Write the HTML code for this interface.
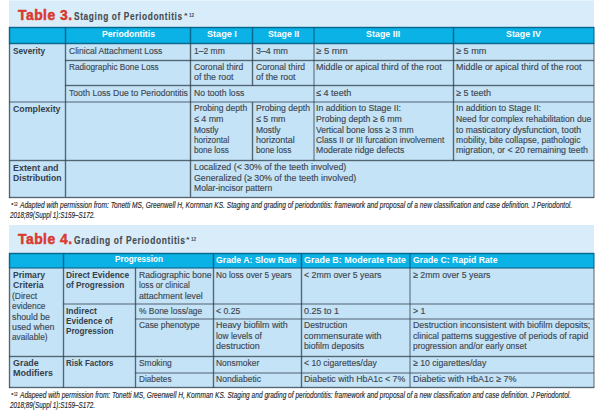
<!DOCTYPE html>
<html><head><meta charset="utf-8"><style>
html,body{margin:0;padding:0;background:#fff;width:600px;height:412px;overflow:hidden}
body{position:relative;font-family:"Liberation Sans",sans-serif}
div{position:absolute}
.t{white-space:pre;transform-origin:0 0}
</style></head><body>
<div style="left:9px;top:1px;width:585px;height:26px;background:#d8edf9"></div>
<div style="left:9px;top:0px;width:585px;height:1px;background:#e6f3fb"></div>
<div style="left:9px;top:27px;width:585px;height:171px;background:#c4e3f7"></div>
<div style="left:9px;top:27px;width:585px;height:17px;background:#0ab2e6"></div>
<div style="left:9px;top:225px;width:585px;height:28px;background:#d8edf9"></div>
<div style="left:9px;top:253px;width:585px;height:135px;background:#c4e3f7"></div>
<div style="left:9px;top:253px;width:585px;height:15px;background:#0ab2e6"></div>
<div style="left:9px;top:27px;width:585px;height:1px;background:rgba(8,90,125,0.85)"></div>
<div style="left:9px;top:26px;width:585px;height:1px;background:rgba(8,90,125,0.2)"></div>
<div style="left:9px;top:28px;width:585px;height:1px;background:rgba(8,90,125,0.2)"></div>
<div style="left:9px;top:43px;width:585px;height:1px;background:rgba(8,90,125,0.85)"></div>
<div style="left:9px;top:42px;width:585px;height:1px;background:rgba(8,90,125,0.2)"></div>
<div style="left:9px;top:44px;width:585px;height:1px;background:rgba(8,90,125,0.2)"></div>
<div style="left:9px;top:27px;width:1px;height:17px;background:rgba(8,90,125,0.85)"></div>
<div style="left:8px;top:27px;width:1px;height:17px;background:rgba(8,90,125,0.2)"></div>
<div style="left:10px;top:27px;width:1px;height:17px;background:rgba(8,90,125,0.2)"></div>
<div style="left:65px;top:27px;width:1px;height:17px;background:rgba(8,90,125,0.85)"></div>
<div style="left:64px;top:27px;width:1px;height:17px;background:rgba(8,90,125,0.2)"></div>
<div style="left:66px;top:27px;width:1px;height:17px;background:rgba(8,90,125,0.2)"></div>
<div style="left:190px;top:27px;width:1px;height:17px;background:rgba(8,90,125,0.85)"></div>
<div style="left:189px;top:27px;width:1px;height:17px;background:rgba(8,90,125,0.2)"></div>
<div style="left:191px;top:27px;width:1px;height:17px;background:rgba(8,90,125,0.2)"></div>
<div style="left:252px;top:27px;width:1px;height:17px;background:rgba(8,90,125,0.85)"></div>
<div style="left:251px;top:27px;width:1px;height:17px;background:rgba(8,90,125,0.2)"></div>
<div style="left:253px;top:27px;width:1px;height:17px;background:rgba(8,90,125,0.2)"></div>
<div style="left:313px;top:27px;width:1px;height:17px;background:rgba(8,90,125,0.5)"></div>
<div style="left:314px;top:27px;width:1px;height:17px;background:rgba(8,90,125,0.5)"></div>
<div style="left:453px;top:27px;width:1px;height:17px;background:rgba(8,90,125,0.85)"></div>
<div style="left:452px;top:27px;width:1px;height:17px;background:rgba(8,90,125,0.2)"></div>
<div style="left:454px;top:27px;width:1px;height:17px;background:rgba(8,90,125,0.2)"></div>
<div style="left:593px;top:27px;width:1px;height:17px;background:rgba(8,90,125,0.5)"></div>
<div style="left:594px;top:27px;width:1px;height:17px;background:rgba(8,90,125,0.5)"></div>
<div style="left:9px;top:44px;width:1px;height:154px;background:rgba(52,66,78,0.78)"></div>
<div style="left:8px;top:44px;width:1px;height:154px;background:rgba(52,66,78,0.14)"></div>
<div style="left:10px;top:44px;width:1px;height:154px;background:rgba(52,66,78,0.14)"></div>
<div style="left:593px;top:44px;width:1px;height:154px;background:rgba(52,66,78,0.4)"></div>
<div style="left:594px;top:44px;width:1px;height:154px;background:rgba(52,66,78,0.4)"></div>
<div style="left:9px;top:197px;width:585px;height:1px;background:rgba(52,66,78,0.78)"></div>
<div style="left:9px;top:196px;width:585px;height:1px;background:rgba(52,66,78,0.14)"></div>
<div style="left:9px;top:198px;width:585px;height:1px;background:rgba(52,66,78,0.14)"></div>
<div style="left:65px;top:60px;width:529px;height:1px;background:rgba(52,66,78,0.78)"></div>
<div style="left:65px;top:59px;width:529px;height:1px;background:rgba(52,66,78,0.14)"></div>
<div style="left:65px;top:61px;width:529px;height:1px;background:rgba(52,66,78,0.14)"></div>
<div style="left:65px;top:85px;width:529px;height:1px;background:rgba(52,66,78,0.78)"></div>
<div style="left:65px;top:84px;width:529px;height:1px;background:rgba(52,66,78,0.14)"></div>
<div style="left:65px;top:86px;width:529px;height:1px;background:rgba(52,66,78,0.14)"></div>
<div style="left:9px;top:101px;width:585px;height:1px;background:rgba(52,66,78,0.4)"></div>
<div style="left:9px;top:102px;width:585px;height:1px;background:rgba(52,66,78,0.4)"></div>
<div style="left:9px;top:160px;width:585px;height:1px;background:rgba(52,66,78,0.78)"></div>
<div style="left:9px;top:159px;width:585px;height:1px;background:rgba(52,66,78,0.14)"></div>
<div style="left:9px;top:161px;width:585px;height:1px;background:rgba(52,66,78,0.14)"></div>
<div style="left:65px;top:44px;width:1px;height:153px;background:rgba(52,66,78,0.78)"></div>
<div style="left:64px;top:44px;width:1px;height:153px;background:rgba(52,66,78,0.14)"></div>
<div style="left:66px;top:44px;width:1px;height:153px;background:rgba(52,66,78,0.14)"></div>
<div style="left:190px;top:44px;width:1px;height:153px;background:rgba(52,66,78,0.78)"></div>
<div style="left:189px;top:44px;width:1px;height:153px;background:rgba(52,66,78,0.14)"></div>
<div style="left:191px;top:44px;width:1px;height:153px;background:rgba(52,66,78,0.14)"></div>
<div style="left:252px;top:44px;width:1px;height:42px;background:rgba(52,66,78,0.78)"></div>
<div style="left:251px;top:44px;width:1px;height:42px;background:rgba(52,66,78,0.14)"></div>
<div style="left:253px;top:44px;width:1px;height:42px;background:rgba(52,66,78,0.14)"></div>
<div style="left:252px;top:102px;width:1px;height:59px;background:rgba(52,66,78,0.78)"></div>
<div style="left:251px;top:102px;width:1px;height:59px;background:rgba(52,66,78,0.14)"></div>
<div style="left:253px;top:102px;width:1px;height:59px;background:rgba(52,66,78,0.14)"></div>
<div style="left:313px;top:44px;width:1px;height:117px;background:rgba(52,66,78,0.4)"></div>
<div style="left:314px;top:44px;width:1px;height:117px;background:rgba(52,66,78,0.4)"></div>
<div style="left:453px;top:44px;width:1px;height:117px;background:rgba(52,66,78,0.78)"></div>
<div style="left:452px;top:44px;width:1px;height:117px;background:rgba(52,66,78,0.14)"></div>
<div style="left:454px;top:44px;width:1px;height:117px;background:rgba(52,66,78,0.14)"></div>
<div style="left:9px;top:253px;width:585px;height:1px;background:rgba(8,90,125,0.85)"></div>
<div style="left:9px;top:252px;width:585px;height:1px;background:rgba(8,90,125,0.2)"></div>
<div style="left:9px;top:254px;width:585px;height:1px;background:rgba(8,90,125,0.2)"></div>
<div style="left:9px;top:267px;width:585px;height:1px;background:rgba(8,90,125,0.5)"></div>
<div style="left:9px;top:268px;width:585px;height:1px;background:rgba(8,90,125,0.5)"></div>
<div style="left:9px;top:253px;width:1px;height:15px;background:rgba(8,90,125,0.85)"></div>
<div style="left:8px;top:253px;width:1px;height:15px;background:rgba(8,90,125,0.2)"></div>
<div style="left:10px;top:253px;width:1px;height:15px;background:rgba(8,90,125,0.2)"></div>
<div style="left:63px;top:253px;width:1px;height:15px;background:rgba(8,90,125,0.85)"></div>
<div style="left:62px;top:253px;width:1px;height:15px;background:rgba(8,90,125,0.2)"></div>
<div style="left:64px;top:253px;width:1px;height:15px;background:rgba(8,90,125,0.2)"></div>
<div style="left:213px;top:253px;width:1px;height:15px;background:rgba(8,90,125,0.85)"></div>
<div style="left:212px;top:253px;width:1px;height:15px;background:rgba(8,90,125,0.2)"></div>
<div style="left:214px;top:253px;width:1px;height:15px;background:rgba(8,90,125,0.2)"></div>
<div style="left:301px;top:253px;width:1px;height:15px;background:rgba(8,90,125,0.85)"></div>
<div style="left:300px;top:253px;width:1px;height:15px;background:rgba(8,90,125,0.2)"></div>
<div style="left:302px;top:253px;width:1px;height:15px;background:rgba(8,90,125,0.2)"></div>
<div style="left:409px;top:253px;width:1px;height:15px;background:rgba(8,90,125,0.5)"></div>
<div style="left:410px;top:253px;width:1px;height:15px;background:rgba(8,90,125,0.5)"></div>
<div style="left:593px;top:253px;width:1px;height:15px;background:rgba(8,90,125,0.5)"></div>
<div style="left:594px;top:253px;width:1px;height:15px;background:rgba(8,90,125,0.5)"></div>
<div style="left:9px;top:268px;width:1px;height:120px;background:rgba(52,66,78,0.78)"></div>
<div style="left:8px;top:268px;width:1px;height:120px;background:rgba(52,66,78,0.14)"></div>
<div style="left:10px;top:268px;width:1px;height:120px;background:rgba(52,66,78,0.14)"></div>
<div style="left:593px;top:268px;width:1px;height:120px;background:rgba(52,66,78,0.4)"></div>
<div style="left:594px;top:268px;width:1px;height:120px;background:rgba(52,66,78,0.4)"></div>
<div style="left:9px;top:387px;width:585px;height:1px;background:rgba(52,66,78,0.78)"></div>
<div style="left:9px;top:386px;width:585px;height:1px;background:rgba(52,66,78,0.14)"></div>
<div style="left:9px;top:388px;width:585px;height:1px;background:rgba(52,66,78,0.14)"></div>
<div style="left:63px;top:303px;width:531px;height:1px;background:rgba(52,66,78,0.4)"></div>
<div style="left:63px;top:304px;width:531px;height:1px;background:rgba(52,66,78,0.4)"></div>
<div style="left:135px;top:318px;width:459px;height:1px;background:rgba(52,66,78,0.4)"></div>
<div style="left:135px;top:319px;width:459px;height:1px;background:rgba(52,66,78,0.4)"></div>
<div style="left:9px;top:356px;width:585px;height:1px;background:rgba(52,66,78,0.78)"></div>
<div style="left:9px;top:355px;width:585px;height:1px;background:rgba(52,66,78,0.14)"></div>
<div style="left:9px;top:357px;width:585px;height:1px;background:rgba(52,66,78,0.14)"></div>
<div style="left:135px;top:372px;width:459px;height:1px;background:rgba(52,66,78,0.4)"></div>
<div style="left:135px;top:373px;width:459px;height:1px;background:rgba(52,66,78,0.4)"></div>
<div style="left:63px;top:268px;width:1px;height:120px;background:rgba(52,66,78,0.78)"></div>
<div style="left:62px;top:268px;width:1px;height:120px;background:rgba(52,66,78,0.14)"></div>
<div style="left:64px;top:268px;width:1px;height:120px;background:rgba(52,66,78,0.14)"></div>
<div style="left:135px;top:268px;width:1px;height:120px;background:rgba(52,66,78,0.78)"></div>
<div style="left:134px;top:268px;width:1px;height:120px;background:rgba(52,66,78,0.14)"></div>
<div style="left:136px;top:268px;width:1px;height:120px;background:rgba(52,66,78,0.14)"></div>
<div style="left:213px;top:268px;width:1px;height:120px;background:rgba(52,66,78,0.78)"></div>
<div style="left:212px;top:268px;width:1px;height:120px;background:rgba(52,66,78,0.14)"></div>
<div style="left:214px;top:268px;width:1px;height:120px;background:rgba(52,66,78,0.14)"></div>
<div style="left:301px;top:268px;width:1px;height:120px;background:rgba(52,66,78,0.78)"></div>
<div style="left:300px;top:268px;width:1px;height:120px;background:rgba(52,66,78,0.14)"></div>
<div style="left:302px;top:268px;width:1px;height:120px;background:rgba(52,66,78,0.14)"></div>
<div style="left:409px;top:268px;width:1px;height:120px;background:rgba(52,66,78,0.4)"></div>
<div style="left:410px;top:268px;width:1px;height:120px;background:rgba(52,66,78,0.4)"></div>
<div class="t" style="left:18.00px;top:8px;font-size:14.5px;line-height:14.5px;font-weight:700;font-style:normal;color:#d83a30;transform:scaleX(0.9578);letter-spacing:0.5px;-webkit-text-stroke:0.5px #d83a30">Table 3.</div>
<div class="t" style="left:73.75px;top:12px;font-size:10px;line-height:10px;font-weight:700;font-style:normal;color:#464b51;transform:scaleX(0.8312);letter-spacing:0.75px;-webkit-text-stroke:0.15px #464b51">Staging of Periodontitis</div>
<div class="t" style="left:183.50px;top:12px;font-size:8px;line-height:8px;font-weight:700;font-style:normal;color:#464b51;transform:scaleX(1.1433);">*</div>
<div class="t" style="left:189.00px;top:13px;font-size:5.2px;line-height:5.2px;font-weight:700;font-style:normal;color:#464b51;transform:scaleX(0.8898);">12</div>
<div class="t" style="left:102.00px;top:29px;font-size:9.7px;line-height:9.7px;font-weight:700;font-style:normal;color:#ffffff;transform:scaleX(0.8950);">Periodontitis</div>
<div class="t" style="left:207.30px;top:29px;font-size:9.7px;line-height:9.7px;font-weight:700;font-style:normal;color:#ffffff;transform:scaleX(0.9416);">Stage I</div>
<div class="t" style="left:267.60px;top:29px;font-size:9.7px;line-height:9.7px;font-weight:700;font-style:normal;color:#ffffff;transform:scaleX(0.9026);">Stage II</div>
<div class="t" style="left:366.25px;top:29px;font-size:9.7px;line-height:9.7px;font-weight:700;font-style:normal;color:#ffffff;transform:scaleX(0.9221);">Stage III</div>
<div class="t" style="left:506.00px;top:29px;font-size:9.7px;line-height:9.7px;font-weight:700;font-style:normal;color:#ffffff;transform:scaleX(0.9154);">Stage IV</div>
<div class="t" style="left:12.80px;top:46px;font-size:9.6px;line-height:9.6px;font-weight:700;font-style:normal;color:#35404b;transform:scaleX(0.8598);">Severity</div>
<div class="t" style="left:12.50px;top:104px;font-size:9.6px;line-height:9.6px;font-weight:700;font-style:normal;color:#35404b;transform:scaleX(0.9185);">Complexity</div>
<div class="t" style="left:13.00px;top:163px;font-size:9.6px;line-height:9.6px;font-weight:700;font-style:normal;color:#35404b;transform:scaleX(0.9278);">Extent and</div>
<div class="t" style="left:13.00px;top:173px;font-size:9.6px;line-height:9.6px;font-weight:700;font-style:normal;color:#35404b;transform:scaleX(0.9011);">Distribution</div>
<div class="t" style="left:68.60px;top:47px;font-size:9.2px;line-height:9.2px;font-weight:400;font-style:normal;color:#3e4750;transform:scaleX(0.9312);-webkit-text-stroke:0.15px #3e4750">Clinical Attachment Loss</div>
<div class="t" style="left:68.60px;top:63px;font-size:9.2px;line-height:9.2px;font-weight:400;font-style:normal;color:#3e4750;transform:scaleX(0.8960);-webkit-text-stroke:0.15px #3e4750">Radiographic Bone Loss</div>
<div class="t" style="left:68.60px;top:89px;font-size:9.2px;line-height:9.2px;font-weight:400;font-style:normal;color:#3e4750;transform:scaleX(0.9350);-webkit-text-stroke:0.15px #3e4750">Tooth Loss Due to Periodontitis</div>
<div class="t" style="left:194.25px;top:47px;font-size:9.2px;line-height:9.2px;font-weight:400;font-style:normal;color:#3e4750;transform:scaleX(0.9265);-webkit-text-stroke:0.15px #3e4750">1–2 mm</div>
<div class="t" style="left:255.50px;top:47px;font-size:9.2px;line-height:9.2px;font-weight:400;font-style:normal;color:#3e4750;transform:scaleX(0.9638);-webkit-text-stroke:0.15px #3e4750">3–4 mm</div>
<div class="t" style="left:316.25px;top:47px;font-size:9.2px;line-height:9.2px;font-weight:400;font-style:normal;color:#3e4750;transform:scaleX(1.0385);-webkit-text-stroke:0.15px #3e4750">≥ 5 mm</div>
<div class="t" style="left:455.50px;top:47px;font-size:9.2px;line-height:9.2px;font-weight:400;font-style:normal;color:#3e4750;transform:scaleX(0.9977);-webkit-text-stroke:0.15px #3e4750">≥ 5 mm</div>
<div class="t" style="left:194.25px;top:63px;font-size:9.2px;line-height:9.2px;font-weight:400;font-style:normal;color:#3e4750;transform:scaleX(0.9363);-webkit-text-stroke:0.15px #3e4750">Coronal third</div>
<div class="t" style="left:194.25px;top:73px;font-size:9.2px;line-height:9.2px;font-weight:400;font-style:normal;color:#3e4750;transform:scaleX(0.9548);-webkit-text-stroke:0.15px #3e4750">of the root</div>
<div class="t" style="left:255.50px;top:63px;font-size:9.2px;line-height:9.2px;font-weight:400;font-style:normal;color:#3e4750;transform:scaleX(0.9314);-webkit-text-stroke:0.15px #3e4750">Coronal third</div>
<div class="t" style="left:255.50px;top:73px;font-size:9.2px;line-height:9.2px;font-weight:400;font-style:normal;color:#3e4750;transform:scaleX(0.9548);-webkit-text-stroke:0.15px #3e4750">of the root</div>
<div class="t" style="left:316.25px;top:63px;font-size:9.2px;line-height:9.2px;font-weight:400;font-style:normal;color:#3e4750;transform:scaleX(0.9771);-webkit-text-stroke:0.15px #3e4750">Middle or apical third of the root</div>
<div class="t" style="left:455.50px;top:63px;font-size:9.2px;line-height:9.2px;font-weight:400;font-style:normal;color:#3e4750;transform:scaleX(0.9751);-webkit-text-stroke:0.15px #3e4750">Middle or apical third of the root</div>
<div class="t" style="left:194.25px;top:89px;font-size:9.2px;line-height:9.2px;font-weight:400;font-style:normal;color:#3e4750;transform:scaleX(0.9371);-webkit-text-stroke:0.15px #3e4750">No tooth loss</div>
<div class="t" style="left:316.25px;top:89px;font-size:9.2px;line-height:9.2px;font-weight:400;font-style:normal;color:#3e4750;transform:scaleX(0.9875);-webkit-text-stroke:0.15px #3e4750">≤ 4 teeth</div>
<div class="t" style="left:455.50px;top:89px;font-size:9.2px;line-height:9.2px;font-weight:400;font-style:normal;color:#3e4750;transform:scaleX(0.9803);-webkit-text-stroke:0.15px #3e4750">≥ 5 teeth</div>
<div class="t" style="left:194.25px;top:104px;font-size:9.2px;line-height:9.2px;font-weight:400;font-style:normal;color:#3e4750;transform:scaleX(0.9307);-webkit-text-stroke:0.15px #3e4750">Probing depth</div>
<div class="t" style="left:194.25px;top:115px;font-size:9.2px;line-height:9.2px;font-weight:400;font-style:normal;color:#3e4750;transform:scaleX(0.9650);-webkit-text-stroke:0.15px #3e4750">≤ 4 mm</div>
<div class="t" style="left:194.25px;top:126px;font-size:9.2px;line-height:9.2px;font-weight:400;font-style:normal;color:#3e4750;transform:scaleX(0.9233);-webkit-text-stroke:0.15px #3e4750">Mostly</div>
<div class="t" style="left:194.25px;top:136px;font-size:9.2px;line-height:9.2px;font-weight:400;font-style:normal;color:#3e4750;transform:scaleX(0.8848);-webkit-text-stroke:0.15px #3e4750">horizontal</div>
<div class="t" style="left:194.25px;top:146px;font-size:9.2px;line-height:9.2px;font-weight:400;font-style:normal;color:#3e4750;transform:scaleX(0.8835);-webkit-text-stroke:0.15px #3e4750">bone loss</div>
<div class="t" style="left:255.50px;top:104px;font-size:9.2px;line-height:9.2px;font-weight:400;font-style:normal;color:#3e4750;transform:scaleX(0.9437);-webkit-text-stroke:0.15px #3e4750">Probing depth</div>
<div class="t" style="left:255.50px;top:115px;font-size:9.2px;line-height:9.2px;font-weight:400;font-style:normal;color:#3e4750;transform:scaleX(0.9650);-webkit-text-stroke:0.15px #3e4750">≤ 5 mm</div>
<div class="t" style="left:255.50px;top:126px;font-size:9.2px;line-height:9.2px;font-weight:400;font-style:normal;color:#3e4750;transform:scaleX(0.9233);-webkit-text-stroke:0.15px #3e4750">Mostly</div>
<div class="t" style="left:255.50px;top:136px;font-size:9.2px;line-height:9.2px;font-weight:400;font-style:normal;color:#3e4750;transform:scaleX(0.9727);-webkit-text-stroke:0.15px #3e4750">horizontal</div>
<div class="t" style="left:255.50px;top:146px;font-size:9.2px;line-height:9.2px;font-weight:400;font-style:normal;color:#3e4750;transform:scaleX(0.8961);-webkit-text-stroke:0.15px #3e4750">bone loss</div>
<div class="t" style="left:316.25px;top:104px;font-size:9.2px;line-height:9.2px;font-weight:400;font-style:normal;color:#3e4750;transform:scaleX(0.9509);-webkit-text-stroke:0.15px #3e4750">In addition to Stage II:</div>
<div class="t" style="left:316.25px;top:115px;font-size:9.2px;line-height:9.2px;font-weight:400;font-style:normal;color:#3e4750;transform:scaleX(0.9494);-webkit-text-stroke:0.15px #3e4750">Probing depth ≥ 6 mm</div>
<div class="t" style="left:316.25px;top:126px;font-size:9.2px;line-height:9.2px;font-weight:400;font-style:normal;color:#3e4750;transform:scaleX(0.9274);-webkit-text-stroke:0.15px #3e4750">Vertical bone loss ≥ 3 mm</div>
<div class="t" style="left:316.25px;top:136px;font-size:9.2px;line-height:9.2px;font-weight:400;font-style:normal;color:#3e4750;transform:scaleX(0.9100);-webkit-text-stroke:0.15px #3e4750">Class II or III furcation involvement</div>
<div class="t" style="left:316.25px;top:146px;font-size:9.2px;line-height:9.2px;font-weight:400;font-style:normal;color:#3e4750;transform:scaleX(0.9390);-webkit-text-stroke:0.15px #3e4750">Moderate ridge defects</div>
<div class="t" style="left:455.50px;top:104px;font-size:9.2px;line-height:9.2px;font-weight:400;font-style:normal;color:#3e4750;transform:scaleX(0.9509);-webkit-text-stroke:0.15px #3e4750">In addition to Stage II:</div>
<div class="t" style="left:455.50px;top:115px;font-size:9.2px;line-height:9.2px;font-weight:400;font-style:normal;color:#3e4750;transform:scaleX(0.9357);-webkit-text-stroke:0.15px #3e4750">Need for complex rehabilitation due</div>
<div class="t" style="left:455.50px;top:126px;font-size:9.2px;line-height:9.2px;font-weight:400;font-style:normal;color:#3e4750;transform:scaleX(0.9487);-webkit-text-stroke:0.15px #3e4750">to masticatory dysfunction, tooth</div>
<div class="t" style="left:455.50px;top:136px;font-size:9.2px;line-height:9.2px;font-weight:400;font-style:normal;color:#3e4750;transform:scaleX(0.9316);-webkit-text-stroke:0.15px #3e4750">mobility, bite collapse, pathologic</div>
<div class="t" style="left:455.50px;top:146px;font-size:9.2px;line-height:9.2px;font-weight:400;font-style:normal;color:#3e4750;transform:scaleX(0.9590);-webkit-text-stroke:0.15px #3e4750">migration, or &lt; 20 remaining teeth</div>
<div class="t" style="left:194.25px;top:163px;font-size:9.2px;line-height:9.2px;font-weight:400;font-style:normal;color:#3e4750;transform:scaleX(0.9600);-webkit-text-stroke:0.15px #3e4750">Localized (&lt; 30% of the teeth involved)</div>
<div class="t" style="left:194.25px;top:174px;font-size:9.2px;line-height:9.2px;font-weight:400;font-style:normal;color:#3e4750;transform:scaleX(0.9602);-webkit-text-stroke:0.15px #3e4750">Generalized (≥ 30% of the teeth involved)</div>
<div class="t" style="left:194.25px;top:184px;font-size:9.2px;line-height:9.2px;font-weight:400;font-style:normal;color:#3e4750;transform:scaleX(0.9344);-webkit-text-stroke:0.15px #3e4750">Molar-incisor pattern</div>
<div class="t" style="left:20.00px;top:201px;font-size:8.3px;line-height:8.3px;font-weight:400;font-style:italic;color:#24292e;transform:scaleX(0.7958);-webkit-text-stroke:0.15px #24292e">Adapted with permission from: Tonetti MS, Greenwell H, Kornman KS. Staging and grading of periodontitis: framework and proposal of a new classification and case definition. J Periodontol.</div>
<div class="t" style="left:11.00px;top:202px;font-size:6px;line-height:6px;font-weight:700;font-style:normal;color:#24292e;transform:scaleX(1.1111);">*</div>
<div class="t" style="left:13.50px;top:203px;font-size:4.5px;line-height:4.5px;font-weight:700;font-style:normal;color:#24292e;transform:scaleX(0.7124);">12</div>
<div class="t" style="left:10.00px;top:211px;font-size:8.3px;line-height:8.3px;font-weight:400;font-style:italic;color:#24292e;transform:scaleX(0.7614);-webkit-text-stroke:0.15px #24292e">2018;89(Suppl 1):S159–S172.</div>
<div class="t" style="left:18.00px;top:232px;font-size:14.5px;line-height:14.5px;font-weight:700;font-style:normal;color:#d83a30;transform:scaleX(0.9578);letter-spacing:0.5px;-webkit-text-stroke:0.5px #d83a30">Table 4.</div>
<div class="t" style="left:73.75px;top:236px;font-size:10px;line-height:10px;font-weight:700;font-style:normal;color:#464b51;transform:scaleX(0.8429);letter-spacing:0.75px;-webkit-text-stroke:0.15px #464b51">Grading of Periodontitis</div>
<div class="t" style="left:185.50px;top:236px;font-size:8px;line-height:8px;font-weight:700;font-style:normal;color:#464b51;transform:scaleX(1.1433);">*</div>
<div class="t" style="left:191.00px;top:237px;font-size:5.2px;line-height:5.2px;font-weight:700;font-style:normal;color:#464b51;transform:scaleX(0.8898);">12</div>
<div class="t" style="left:114.50px;top:254px;font-size:9.7px;line-height:9.7px;font-weight:700;font-style:normal;color:#ffffff;transform:scaleX(0.8491);">Progression</div>
<div class="t" style="left:216.30px;top:255px;font-size:9.7px;line-height:9.7px;font-weight:700;font-style:normal;color:#ffffff;transform:scaleX(0.9002);">Grade A: Slow Rate</div>
<div class="t" style="left:304.00px;top:255px;font-size:9.7px;line-height:9.7px;font-weight:700;font-style:normal;color:#ffffff;transform:scaleX(0.9243);">Grade B: Moderate Rate</div>
<div class="t" style="left:413.00px;top:255px;font-size:9.7px;line-height:9.7px;font-weight:700;font-style:normal;color:#ffffff;transform:scaleX(0.8970);">Grade C: Rapid Rate</div>
<div class="t" style="left:12.50px;top:270px;font-size:9.6px;line-height:9.6px;font-weight:700;font-style:normal;color:#35404b;transform:scaleX(0.8955);">Primary</div>
<div class="t" style="left:12.50px;top:280px;font-size:9.6px;line-height:9.6px;font-weight:700;font-style:normal;color:#35404b;transform:scaleX(0.9082);">Criteria</div>
<div class="t" style="left:12.00px;top:292px;font-size:9.2px;line-height:9.2px;font-weight:400;font-style:normal;color:#3e4750;transform:scaleX(0.9253);-webkit-text-stroke:0.15px #3e4750">(Direct</div>
<div class="t" style="left:12.00px;top:302px;font-size:9.2px;line-height:9.2px;font-weight:400;font-style:normal;color:#3e4750;transform:scaleX(0.9110);-webkit-text-stroke:0.15px #3e4750">evidence</div>
<div class="t" style="left:12.00px;top:313px;font-size:9.2px;line-height:9.2px;font-weight:400;font-style:normal;color:#3e4750;transform:scaleX(0.9534);-webkit-text-stroke:0.15px #3e4750">should be</div>
<div class="t" style="left:12.00px;top:323px;font-size:9.2px;line-height:9.2px;font-weight:400;font-style:normal;color:#3e4750;transform:scaleX(0.9562);-webkit-text-stroke:0.15px #3e4750">used when</div>
<div class="t" style="left:12.00px;top:333px;font-size:9.2px;line-height:9.2px;font-weight:400;font-style:normal;color:#3e4750;transform:scaleX(0.9028);-webkit-text-stroke:0.15px #3e4750">available)</div>
<div class="t" style="left:66.25px;top:270px;font-size:9.6px;line-height:9.6px;font-weight:700;font-style:normal;color:#35404b;transform:scaleX(0.8785);">Direct Evidence</div>
<div class="t" style="left:66.25px;top:280px;font-size:9.6px;line-height:9.6px;font-weight:700;font-style:normal;color:#35404b;transform:scaleX(0.8604);">of Progression</div>
<div class="t" style="left:66.25px;top:306px;font-size:9.6px;line-height:9.6px;font-weight:700;font-style:normal;color:#35404b;transform:scaleX(0.8877);">Indirect</div>
<div class="t" style="left:66.25px;top:316px;font-size:9.6px;line-height:9.6px;font-weight:700;font-style:normal;color:#35404b;transform:scaleX(0.8636);">Evidence of</div>
<div class="t" style="left:66.25px;top:326px;font-size:9.6px;line-height:9.6px;font-weight:700;font-style:normal;color:#35404b;transform:scaleX(0.8485);">Progression</div>
<div class="t" style="left:12.50px;top:358px;font-size:9.6px;line-height:9.6px;font-weight:700;font-style:normal;color:#35404b;transform:scaleX(0.9290);">Grade</div>
<div class="t" style="left:12.50px;top:368px;font-size:9.6px;line-height:9.6px;font-weight:700;font-style:normal;color:#35404b;transform:scaleX(0.9377);">Modifiers</div>
<div class="t" style="left:66.25px;top:358px;font-size:9.6px;line-height:9.6px;font-weight:700;font-style:normal;color:#35404b;transform:scaleX(0.8248);">Risk Factors</div>
<div class="t" style="left:138.75px;top:271px;font-size:9.2px;line-height:9.2px;font-weight:400;font-style:normal;color:#3e4750;transform:scaleX(0.9399);-webkit-text-stroke:0.15px #3e4750">Radiographic bone</div>
<div class="t" style="left:138.75px;top:281px;font-size:9.2px;line-height:9.2px;font-weight:400;font-style:normal;color:#3e4750;transform:scaleX(0.8876);-webkit-text-stroke:0.15px #3e4750">loss or clinical</div>
<div class="t" style="left:138.75px;top:292px;font-size:9.2px;line-height:9.2px;font-weight:400;font-style:normal;color:#3e4750;transform:scaleX(0.9529);-webkit-text-stroke:0.15px #3e4750">attachment level</div>
<div class="t" style="left:138.75px;top:307px;font-size:9.2px;line-height:9.2px;font-weight:400;font-style:normal;color:#3e4750;transform:scaleX(0.9173);-webkit-text-stroke:0.15px #3e4750">% Bone loss/age</div>
<div class="t" style="left:138.75px;top:321px;font-size:9.2px;line-height:9.2px;font-weight:400;font-style:normal;color:#3e4750;transform:scaleX(0.9079);-webkit-text-stroke:0.15px #3e4750">Case phenotype</div>
<div class="t" style="left:138.75px;top:359px;font-size:9.2px;line-height:9.2px;font-weight:400;font-style:normal;color:#3e4750;transform:scaleX(0.9164);-webkit-text-stroke:0.15px #3e4750">Smoking</div>
<div class="t" style="left:138.75px;top:375px;font-size:9.2px;line-height:9.2px;font-weight:400;font-style:normal;color:#3e4750;transform:scaleX(0.8964);-webkit-text-stroke:0.15px #3e4750">Diabetes</div>
<div class="t" style="left:216.25px;top:271px;font-size:9.2px;line-height:9.2px;font-weight:400;font-style:normal;color:#3e4750;transform:scaleX(0.9045);-webkit-text-stroke:0.15px #3e4750">No loss over 5 years</div>
<div class="t" style="left:216.25px;top:307px;font-size:9.2px;line-height:9.2px;font-weight:400;font-style:normal;color:#3e4750;transform:scaleX(0.9398);-webkit-text-stroke:0.15px #3e4750">&lt; 0.25</div>
<div class="t" style="left:216.25px;top:321px;font-size:9.2px;line-height:9.2px;font-weight:400;font-style:normal;color:#3e4750;transform:scaleX(0.9690);-webkit-text-stroke:0.15px #3e4750">Heavy biofilm with</div>
<div class="t" style="left:216.25px;top:332px;font-size:9.2px;line-height:9.2px;font-weight:400;font-style:normal;color:#3e4750;transform:scaleX(0.9143);-webkit-text-stroke:0.15px #3e4750">low levels of</div>
<div class="t" style="left:216.25px;top:342px;font-size:9.2px;line-height:9.2px;font-weight:400;font-style:normal;color:#3e4750;transform:scaleX(0.9733);-webkit-text-stroke:0.15px #3e4750">destruction</div>
<div class="t" style="left:216.25px;top:359px;font-size:9.2px;line-height:9.2px;font-weight:400;font-style:normal;color:#3e4750;transform:scaleX(0.9206);-webkit-text-stroke:0.15px #3e4750">Nonsmoker</div>
<div class="t" style="left:216.25px;top:375px;font-size:9.2px;line-height:9.2px;font-weight:400;font-style:normal;color:#3e4750;transform:scaleX(0.9272);-webkit-text-stroke:0.15px #3e4750">Nondiabetic</div>
<div class="t" style="left:303.75px;top:271px;font-size:9.2px;line-height:9.2px;font-weight:400;font-style:normal;color:#3e4750;transform:scaleX(0.9515);-webkit-text-stroke:0.15px #3e4750">&lt; 2mm over 5 years</div>
<div class="t" style="left:303.75px;top:307px;font-size:9.2px;line-height:9.2px;font-weight:400;font-style:normal;color:#3e4750;transform:scaleX(0.9786);-webkit-text-stroke:0.15px #3e4750">0.25 to 1</div>
<div class="t" style="left:303.75px;top:321px;font-size:9.2px;line-height:9.2px;font-weight:400;font-style:normal;color:#3e4750;transform:scaleX(0.9308);-webkit-text-stroke:0.15px #3e4750">Destruction</div>
<div class="t" style="left:303.75px;top:332px;font-size:9.2px;line-height:9.2px;font-weight:400;font-style:normal;color:#3e4750;transform:scaleX(0.9730);-webkit-text-stroke:0.15px #3e4750">commensurate with</div>
<div class="t" style="left:303.75px;top:342px;font-size:9.2px;line-height:9.2px;font-weight:400;font-style:normal;color:#3e4750;transform:scaleX(0.9474);-webkit-text-stroke:0.15px #3e4750">biofilm deposits</div>
<div class="t" style="left:303.75px;top:359px;font-size:9.2px;line-height:9.2px;font-weight:400;font-style:normal;color:#3e4750;transform:scaleX(0.9341);-webkit-text-stroke:0.15px #3e4750">&lt; 10 cigarettes/day</div>
<div class="t" style="left:303.75px;top:375px;font-size:9.2px;line-height:9.2px;font-weight:400;font-style:normal;color:#3e4750;transform:scaleX(0.9555);-webkit-text-stroke:0.15px #3e4750">Diabetic with HbA1c &lt; 7%</div>
<div class="t" style="left:412.50px;top:271px;font-size:9.2px;line-height:9.2px;font-weight:400;font-style:normal;color:#3e4750;transform:scaleX(0.9554);-webkit-text-stroke:0.15px #3e4750">≥ 2mm over 5 years</div>
<div class="t" style="left:412.50px;top:307px;font-size:9.2px;line-height:9.2px;font-weight:400;font-style:normal;color:#3e4750;transform:scaleX(0.9608);-webkit-text-stroke:0.15px #3e4750">&gt; 1</div>
<div class="t" style="left:412.50px;top:321px;font-size:9.2px;line-height:9.2px;font-weight:400;font-style:normal;color:#3e4750;transform:scaleX(0.9591);-webkit-text-stroke:0.15px #3e4750">Destruction inconsistent with biofilm deposits;</div>
<div class="t" style="left:412.50px;top:332px;font-size:9.2px;line-height:9.2px;font-weight:400;font-style:normal;color:#3e4750;transform:scaleX(0.9429);-webkit-text-stroke:0.15px #3e4750">clinical patterns suggestive of periods of rapid</div>
<div class="t" style="left:412.50px;top:342px;font-size:9.2px;line-height:9.2px;font-weight:400;font-style:normal;color:#3e4750;transform:scaleX(0.9146);-webkit-text-stroke:0.15px #3e4750">progression and/or early onset</div>
<div class="t" style="left:412.50px;top:359px;font-size:9.2px;line-height:9.2px;font-weight:400;font-style:normal;color:#3e4750;transform:scaleX(0.9449);-webkit-text-stroke:0.15px #3e4750">≥ 10 cigarettes/day</div>
<div class="t" style="left:412.50px;top:375px;font-size:9.2px;line-height:9.2px;font-weight:400;font-style:normal;color:#3e4750;transform:scaleX(0.9798);-webkit-text-stroke:0.15px #3e4750">Diabetic with HbA1c ≥ 7%</div>
<div class="t" style="left:20.00px;top:391px;font-size:8.3px;line-height:8.3px;font-weight:400;font-style:italic;color:#24292e;transform:scaleX(0.7917);-webkit-text-stroke:0.15px #24292e">Adapeed with permission from: Tonetti MS, Greenwell H, Kornman KS. Staging and grading of periodontitis: framework and proposal of a new classification and case definition. J Periodontol.</div>
<div class="t" style="left:11.00px;top:392px;font-size:6px;line-height:6px;font-weight:700;font-style:normal;color:#24292e;transform:scaleX(1.1111);">*</div>
<div class="t" style="left:13.50px;top:393px;font-size:4.5px;line-height:4.5px;font-weight:700;font-style:normal;color:#24292e;transform:scaleX(0.7124);">12</div>
<div class="t" style="left:10.00px;top:401px;font-size:8.3px;line-height:8.3px;font-weight:400;font-style:italic;color:#24292e;transform:scaleX(0.7614);-webkit-text-stroke:0.15px #24292e">2018;89(Suppl 1):S159–S172.</div>

</body></html>
